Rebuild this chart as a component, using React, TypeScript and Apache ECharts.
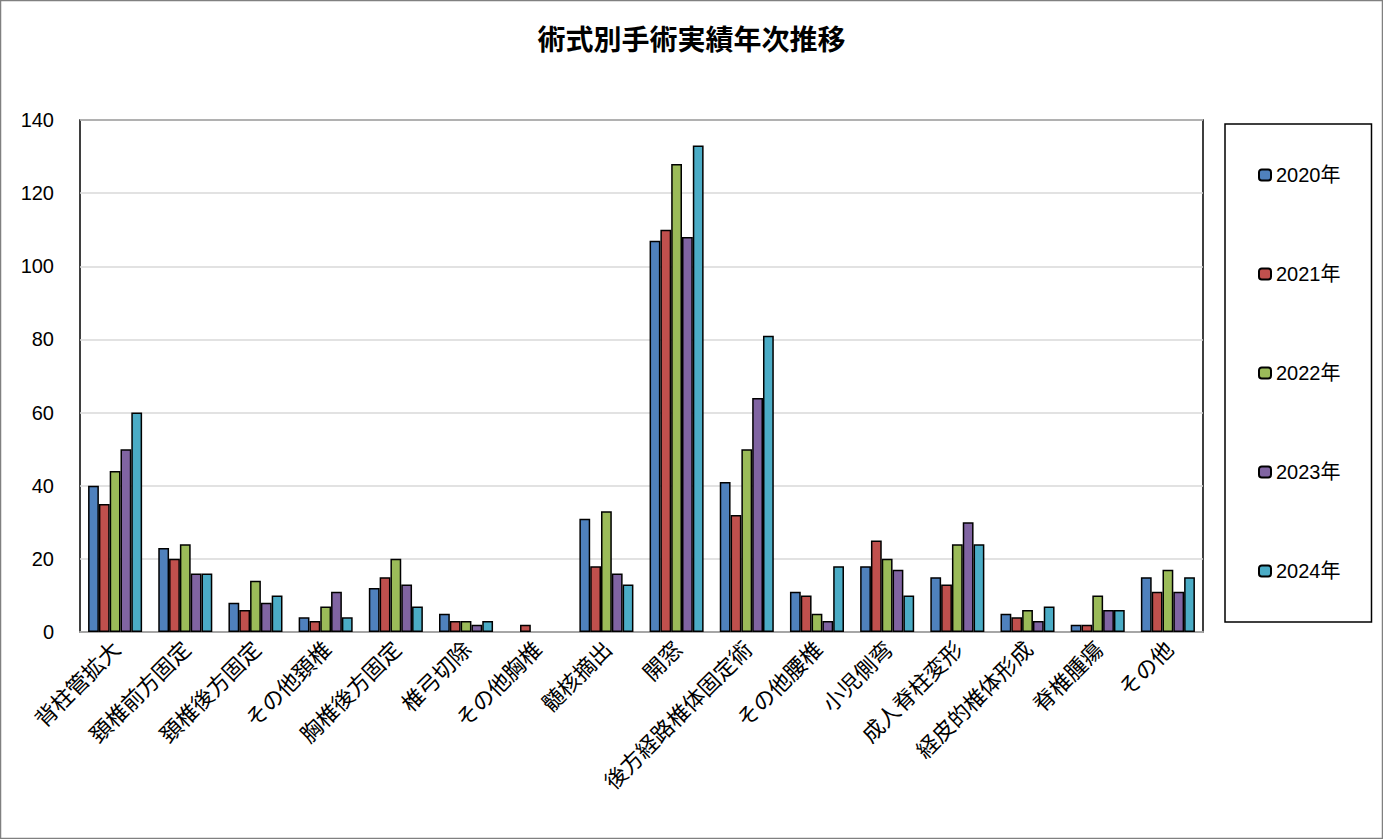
import React, { useRef, useEffect } from "react";
import * as echarts from "echarts";

const categories = [
  "背柱管拡大",
  "頚椎前方固定",
  "頚椎後方固定",
  "その他頚椎",
  "胸椎後方固定",
  "椎弓切除",
  "その他胸椎",
  "髄核摘出",
  "開窓",
  "後方経路椎体固定術",
  "その他腰椎",
  "小児側弯",
  "成人脊柱変形",
  "経皮的椎体形成",
  "脊椎腫瘍",
  "その他",
];
const years = ["2020年", "2021年", "2022年", "2023年", "2024年"];
const colors = ["#4f81bd", "#c0504d", "#9bbb59", "#8064a2", "#4bacc6"];

const y2020 = [40, 23, 8, 4, 12, 5, 0, 31, 107, 41, 11, 18, 15, 5, 2, 15];
const y2021 = [35, 20, 6, 3, 15, 3, 2, 18, 110, 32, 10, 25, 13, 4, 2, 11];
const y2022 = [44, 24, 14, 7, 20, 3, 0, 33, 128, 50, 5, 20, 24, 6, 10, 17];
const y2023 = [50, 16, 8, 11, 13, 2, 0, 16, 108, 64, 3, 17, 30, 3, 6, 11];
const y2024 = [60, 16, 10, 4, 7, 3, 0, 13, 133, 81, 18, 10, 24, 7, 6, 15];
const seriesValues = [y2020, y2021, y2022, y2023, y2024];

const JP = "'Noto Sans CJK JP', 'Noto Sans', sans-serif";
const NUM = "'Liberation Sans', 'Noto Sans CJK JP', sans-serif";

const App = function () {
  const chart = useRef<HTMLDivElement>(null);
  useEffect(() => {
    document.body.style.margin = "0";
    if (!chart.current) return;
    const myChart = echarts.init(chart.current, null, { renderer: "svg" });
    const option = {
      animation: false,
      backgroundColor: "#fff",
      textStyle: { fontFamily: JP, color: "#000" },
      title: {
        text: "術式別手術実績年次推移",
        left: "center",
        top: 19,
        textStyle: { fontSize: 28, fontWeight: "bold", color: "#000", fontFamily: JP },
      },
      graphic: [
        {
          type: "rect",
          shape: { x: 0.5, y: 0.5, width: 1382, height: 838 },
          style: { fill: "none", stroke: "#808080", lineWidth: 1.5 },
          silent: true,
        },
      ],
      grid: {
        left: 80,
        top: 120,
        right: 180,
        bottom: 207,
        show: true,
        borderColor: "#000",
        borderWidth: 1.5,
      },
      legend: {
        orient: "vertical",
        left: 1225,
        top: 124,
        padding: [41, 31, 41, 33],
        itemGap: 79,
        itemWidth: 12,
        itemHeight: 11,
        borderColor: "#000",
        borderWidth: 1.5,
        textStyle: { fontSize: 20, color: "#000", fontFamily: NUM },
        data: years,
      },
      xAxis: {
        type: "category",
        data: categories,
        axisTick: { show: false },
        axisLine: { lineStyle: { color: "#a6a6a6", width: 2 } },
        axisLabel: {
          interval: 0,
          rotate: 45,
          fontSize: 22,
          color: "#000",
          margin: 12,
          fontFamily: JP,
        },
      },
      yAxis: {
        type: "value",
        min: 0,
        max: 140,
        interval: 20,
        axisLine: { show: false },
        axisTick: { show: false },
        axisLabel: { fontSize: 20, color: "#000", margin: 26, fontFamily: NUM },
        splitLine: { lineStyle: { color: "#d9d9d9", width: 1.5 } },
      },
      series: years.map((name, i) => ({
        name,
        type: "bar",
        // zero counts are left without a bar, as in the source chart
        data: seriesValues[i].map((v) => (v === 0 ? null : v)),
        barGap: "0%",
        barCategoryGap: "23%",
        itemStyle: { color: colors[i], borderColor: "#000", borderWidth: 1.5 },
      })),
    };
    myChart.setOption(option);
    return () => {
      myChart.dispose();
    };
  }, []);
  return (
    <div
      ref={chart}
      style={{ position: "fixed", left: 0, top: 0, width: 1383, height: 839 }}
    ></div>
  );
};
export default App;
